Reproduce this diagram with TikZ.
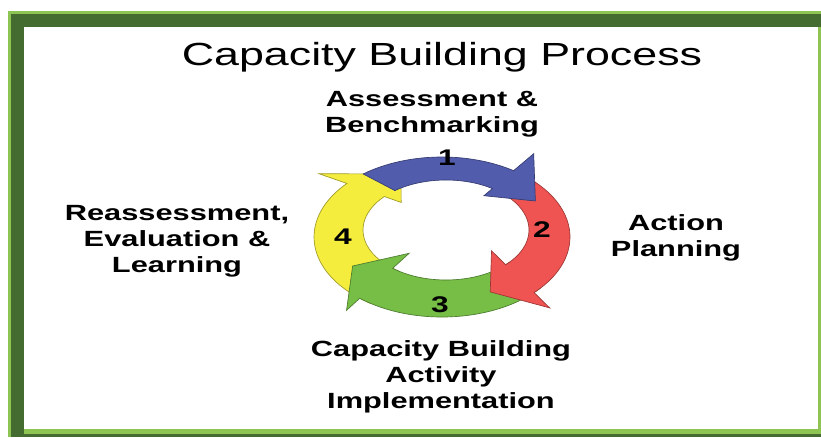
\documentclass[tikz,border=0pt]{standalone}
\usepackage{fontspec}
\setmainfont{Liberation Sans}
\newfontfamily\wide[FakeStretch=1.4]{Liberation Sans}
\usetikzlibrary{calc}
\definecolor{lgreen}{RGB}{141,196,82}
\definecolor{dgreen}{RGB}{68,107,48}
\definecolor{cblue}{RGB}{82,92,172}
\definecolor{cred}{RGB}{239,84,82}
\definecolor{cgreen}{RGB}{118,190,70}
\definecolor{cyellow}{RGB}{245,237,62}
% #1 colour, #2 tail angle, #3 base angle, #4 tip angle, #5 outer barb, #6 inner barb
\newcommand\cycarrow[6]{%
  \path[fill=#1, draw=#1!65!black, line width=0.5pt, line join=miter]
    ({442+128*cos(#2)},{200+80*sin(#2)})
    arc[start angle=#2, end angle=#3, x radius=96pt, y radius=60pt]
    -- ({446-4*(#5)+(83+45*(#5))*cos(#3)},{207-7*(#5)+(50+30*(#5))*sin(#3)})
    -- ({444+105.5*cos(#4)},{203.5+65*sin(#4)})
    -- ({446-4*(#6)+(83+45*(#6))*cos(#3)},{207-7*(#6)+(50+30*(#6))*sin(#3)})
    -- ({446+83*cos(#3)},{207+50*sin(#3)})
    arc[start angle=#3, end angle=#2, x radius=62.25pt, y radius=37.5pt]
    -- cycle;}
\tikzset{
  title/.style={font=\wide\fontsize{24}{28}\selectfont, inner sep=0pt},
  lbl/.style={font=\wide\bfseries\fontsize{16.5}{19.5}\selectfont, align=center, inner sep=0pt},
  num/.style={font=\wide\bfseries\fontsize{17}{20}\selectfont, inner sep=0pt}
}
\begin{document}
\begin{tikzpicture}[x=0.75pt,y=0.75pt]
\useasboundingbox (0,0) rectangle (821,437);
% frame
\fill[lgreen] (8,0) rectangle (821,426);
\fill[dgreen] (11,410) rectangle (821,423);
\fill[dgreen] (11,0) rectangle (24,423);
\fill[dgreen] (11,0) rectangle (821,3);
\fill[white] (24,8) rectangle (818,410);
% cycle arrows
\cycarrow{cyellow}{236}{138}{114}{1.75}{-0.45}
\cycarrow{cgreen}{-40}{-130}{-150}{1.4}{-0.5}
\cycarrow{cred}{50}{-44}{-64}{1.55}{-0.5}
\cycarrow{cblue}{128}{56}{30}{1.95}{-0.4}
% numbers
\node[num] (n1) at (447,279) {1};
\node[num] (n2) at (542,207) {2};
\node[num] (n3) at (440,132) {3};
\node[num] (n4) at (343,200) {4};
% texts
\node[title] (t) at (442,380) {Capacity Building Process};
\node[lbl] (a) at (432,323) {Assessment \&\\Benchmarking};
\node[lbl] (r) at (177,196) {Reassessment,\\Evaluation \&\\Learning};
\node[lbl] (p) at (676,199) {Action\\Planning};
\node[lbl] (c) at (441,60) {Capacity Building\\Activity\\Implementation};
\end{tikzpicture}
\end{document}
